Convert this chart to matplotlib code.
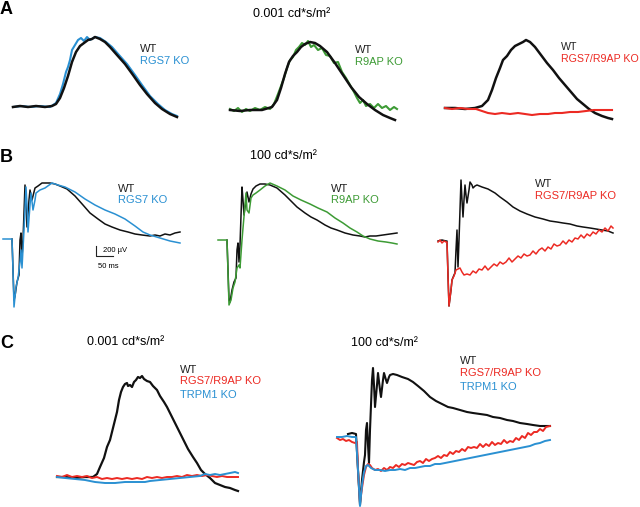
"""
ERG traces: WT vs RGS7 / R9AP / RGS7-R9AP / TRPM1 knockouts.

Time in ms from trace start, amplitude in uV relative to baseline.
Values were read off the printed figure.
"""

import matplotlib
matplotlib.use("Agg")
import matplotlib.pyplot as plt


BLACK = "#111111"
BLUE = "#2a90d2"
GREEN = "#3d9b35"
RED = "#ec2a23"

MS_PER_PX = 3.0
UV_PER_PX = 20.0
SCALE_UV = 200
SCALE_MS = 50

DIM_TITLE = "0.001 cd*s/m\u00b2"
BRIGHT_TITLE = "100 cd*s/m\u00b2"

# ---- A: 0.001 cd*s/m2 -------------------------------------------------------
A1_T_WT = [0, 21, 45, 69, 96, 117, 129, 141, 153, 165, 177, 189, 201, 213, 225,
           237, 246, 261, 276, 291, 312, 336, 360, 381, 402, 426, 447, 471, 492]
A1_V_WT = [0, 20, 0, 20, 0, 20, 60, 180, 380, 620, 900, 1100, 1220, 1280, 1340,
           1360, 1400, 1360, 1300, 1200, 1040, 860, 640, 440, 260, 80, -40, -140, -200]
A1_T_KO = [0, 27, 51, 81, 111, 129, 141, 150, 159, 165, 171, 177, 186, 195, 204, 213,
           222, 231, 246, 261, 279, 297, 318, 342, 366, 387, 411, 435, 456, 477, 492]
A1_V_KO = [0, 20, 0, 20, 0, 80, 260, 460, 700, 800, 940, 1140, 1240, 1340, 1380, 1320,
           1400, 1340, 1400, 1380, 1300, 1200, 1040, 860, 640, 440, 220, 60, -60, -140, -180]

A2_T_WT = [0, 30, 60, 96, 126, 141, 153, 165, 177, 189, 201, 213, 225, 240, 255,
           270, 291, 315, 339, 363, 387, 411, 435, 459, 480, 495]
A2_V_WT = [0, -20, 0, 0, 60, 200, 440, 720, 960, 1080, 1160, 1260, 1320, 1360, 1340,
           1280, 1160, 940, 700, 460, 260, 120, 0, -100, -160, -200]
A2_T_KO = [0, 12, 24, 36, 48, 60, 75, 90, 105, 120, 132, 144, 153, 162, 171, 180,
           189, 198, 207, 216, 225, 234, 243, 252, 264, 276, 288, 300, 312, 324, 336,
           348, 360, 372, 381, 390, 399, 408, 420, 432, 444, 456, 468, 480, 492, 501]
A2_V_KO = [20, -20, 40, -40, 20, -20, 40, 0, 60, 20, 120, 320, 480, 640, 840, 1000,
           1060, 1200, 1260, 1340, 1300, 1380, 1260, 1300, 1200, 1240, 1100, 1080, 940,
           960, 760, 640, 500, 360, 240, 140, 200, 80, 120, 40, 120, 40, 80, 0, 60, 20]

A3_T_WT = [0, 30, 60, 90, 111, 129, 141, 153, 165, 174, 186, 198, 210, 222, 234, 243,
           255, 270, 288, 306, 324, 342, 360, 378, 396, 414, 432, 450, 471, 489, 501]
A3_V_WT = [0, 0, -20, 0, 40, 160, 360, 600, 800, 960, 1040, 1160, 1240, 1280, 1320,
           1360, 1320, 1220, 1060, 900, 760, 600, 460, 320, 180, 80, -20, -100, -160,
           -200, -220]
A3_T_KO = [0, 21, 45, 69, 93, 111, 129, 150, 171, 195, 219, 240, 261, 285, 309, 330,
           351, 375, 399, 423, 447, 471, 501]
A3_V_KO = [0, -20, 0, -20, -20, -60, -100, -120, -100, -120, -100, -120, -140, -120,
           -120, -100, -100, -80, -80, -60, -40, -40, -40]

# ---- B: 100 cd*s/m2 ---------------------------------------------------------
B1_T_WT = [27, 30, 33, 36, 42, 48, 51, 54, 57, 60, 66, 69, 72, 78, 81, 87, 93, 96,
           105, 117, 129, 141, 156, 171, 192, 216, 240, 261, 285, 306, 327, 351, 375,
           396, 417, 441, 456, 471, 486, 501, 516, 531]
B1_V_WT = [0, -620, -1220, -1140, -860, -720, -20, 120, -360, -20, 1080, 680, 240,
           780, 980, 780, 940, 1020, 1060, 1120, 1120, 1120, 1100, 1060, 1000, 860, 680,
           520, 400, 300, 240, 180, 140, 100, 80, 60, 80, 60, 100, 80, 120, 140]
B1_T_KO = [0, 15, 27, 30, 33, 39, 45, 51, 54, 57, 63, 69, 72, 75, 81, 84, 90, 96, 99,
           111, 126, 147, 165, 186, 216, 246, 276, 306, 336, 366, 396, 420, 441, 471,
           501, 531]
B1_V_KO = [0, 0, 0, -620, -1360, -960, -780, -460, -220, -580, 180, 1040, 680, 140,
           680, 920, 580, 780, 920, 980, 1020, 1120, 1080, 1040, 940, 800, 680, 580,
           500, 400, 260, 140, 80, 20, -40, -80]

B2_T_WT = [27, 30, 33, 36, 42, 48, 54, 57, 60, 63, 66, 72, 75, 78, 84, 87, 93, 99,
           105, 114, 126, 141, 156, 177, 201, 222, 237, 261, 279, 297, 321, 339, 357,
           381, 405, 426, 441, 456, 474, 495, 516, 537]
B2_V_WT = [0, -600, -1200, -1240, -1000, -840, -760, -200, -60, -440, -100, 1060, 800,
           500, 800, 960, 760, 920, 1020, 1080, 1120, 1120, 1100, 1040, 900, 760, 660,
           540, 460, 400, 300, 240, 200, 140, 100, 80, 60, 80, 80, 100, 120, 140]
B2_T_KO = [0, 15, 27, 30, 33, 39, 45, 51, 57, 63, 66, 72, 75, 81, 84, 87, 93, 99, 105,
           114, 126, 141, 156, 177, 201, 225, 249, 276, 300, 327, 351, 375, 396, 417,
           435, 456, 480, 504, 522, 537]
B2_V_KO = [0, 0, 0, -640, -1300, -1200, -960, -840, -560, -500, -560, 0, 240, 700,
           940, 600, 540, 840, 900, 940, 1000, 1080, 1140, 1080, 1000, 880, 800, 720,
           640, 560, 440, 340, 240, 160, 80, 20, -20, -40, -60, -80]

B3_T_WT = [0, 12, 24, 27, 30, 33, 39, 42, 48, 51, 54, 57, 60, 63, 69, 72, 75, 78, 81,
           84, 87, 93, 96, 102, 105, 111, 117, 132, 150, 171, 186, 207, 225, 246, 267,
           291, 315, 336, 357, 375, 396, 417, 435, 456, 474, 492, 510, 525]
B3_V_WT = [0, 20, 0, 0, -680, -1300, -980, -780, -680, -640, -180, 220, -520, 20, 1220,
           820, 480, 820, 1120, 920, 760, 1020, 1180, 1120, 1060, 1100, 1120, 1080, 1040,
           960, 880, 780, 680, 600, 540, 480, 440, 400, 380, 360, 340, 300, 280, 260,
           240, 220, 200, 160]
B3_T_KO = [0, 6, 12, 18, 24, 27, 30, 33, 39, 42, 48, 54, 60, 66, 72, 78,
           87, 96, 105, 114, 123, 132, 141, 150, 159, 168, 177, 186, 195, 204, 213, 222,
           231, 240, 249, 258, 267, 276, 285, 294, 303, 312, 321, 330, 339, 348, 357,
           366, 375, 384, 393, 402, 411, 420, 429, 438, 447, 456, 465, 474, 483, 492,
           501, 510, 519, 525]
B3_V_KO = [-20, 20, -40, 0, -20, -20, -700, -1300, -980, -780, -700, -580, -560, -540,
           -620, -680,
           -660, -680, -600, -640, -560, -580, -500, -580, -520, -460, -500, -420, -460,
           -420, -340, -420, -360, -300, -340, -260, -300, -280, -200, -260, -180, -140,
           -200, -120, -160, -60, -100, -80, 0, -60, 20, -20, 60, 40, 120, 60, 140, 100,
           180, 140, 220, 180, 260, 200, 300, 260]

# ---- C: all three genotypes --------------------------------------------------
C1_T_WT = [0, 24, 54, 84, 108, 120, 129, 141, 150, 159, 168, 174, 180, 186, 192, 198,
           204, 210, 213, 219, 225, 231, 237, 243, 249, 255, 261, 270, 279, 288, 300,
           309, 321, 330, 342, 354, 369, 381, 393, 408, 420, 432, 444, 459, 474, 489,
           504, 519, 534, 543]
C1_V_WT = [0, 0, -20, 0, 0, 60, 200, 380, 600, 740, 980, 1140, 1300, 1540, 1700, 1800,
           1860, 1880, 1820, 1840, 1800, 1900, 1940, 2000, 1980, 2020, 1960, 1920, 1900,
           1820, 1740, 1620, 1500, 1400, 1240, 1080, 880, 720, 560, 400, 280, 140, 60,
           -20, -120, -160, -200, -220, -260, -280]
C1_T_DKO = [0, 15, 30, 45, 60, 75, 90, 105, 120, 135, 150, 165, 180, 195, 210, 225,
            240, 255, 270, 285, 300, 315, 330, 345, 360, 375, 390, 405, 420, 435, 450,
            465, 480, 495, 510, 525, 543]
C1_V_DKO = [20, 0, 40, 0, 20, 0, 20, -20, 0, -40, -20, -40, -20, -40, -20, -40, -20,
            -40, 0, -20, 0, -20, 0, 0, 20, 0, 40, 20, 40, 20, 40, 20, 0, 20, 0, 0, 0]
C1_T_TRPM1 = [0, 24, 54, 84, 114, 144, 174, 204, 234, 264, 279, 309, 339, 369, 399,
              429, 444, 459, 474, 489, 504, 519, 534, 543]
C1_V_TRPM1 = [0, -20, -40, -60, -100, -120, -120, -100, -100, -100, -80, -60, -40, -20,
              0, 20, 60, 40, 60, 40, 60, 80, 100, 80]

C2_T_WT = [33, 45, 57, 63, 69, 75, 81, 84, 87, 90, 93, 96, 99, 105, 108, 111, 114, 120,
           123, 129, 132, 138, 141, 147, 150, 156, 159, 168, 180, 195, 213, 228, 243,
           261, 279, 297, 315, 333, 348, 369, 390, 408, 429, 450, 468, 489, 510, 528,
           549, 570, 588, 609, 624, 639]
C2_V_WT = [60, 80, 60, -660, -1360, -860, -500, -360, 140, 280, -160, -520, 140, 1140,
           1380, 1040, 600, 1040, 1280, 940, 800, 1140, 1280, 1140, 1080, 1200, 1240,
           1260, 1240, 1200, 1160, 1100, 1020, 920, 800, 720, 660, 600, 580, 540, 500,
           480, 460, 440, 400, 380, 340, 320, 280, 260, 240, 220, 220, 220]
C2_T_DKO = [0, 9, 18, 27, 36, 45, 54, 60, 63, 69, 75, 81, 87, 93, 99, 105,
            114, 123, 132, 141, 150, 159, 168, 177, 186, 195, 204, 213, 222, 231, 240,
            249, 258, 267, 276, 285, 294, 303, 312, 321, 330, 339, 348, 357, 366, 375,
            384, 393, 402, 411, 420, 429, 438, 447, 456, 465, 474, 483, 492, 501, 510,
            519, 528, 537, 546, 555, 564, 573, 582, 591, 600, 609, 618, 627, 639]
C2_V_DKO = [-20, -60, -40, -80, -60, -100, -120, -100, -660, -1320, -1020, -760, -600,
            -540, -560, -620,
            -660, -640, -680, -620, -660, -600, -620, -560, -600, -540, -560, -520, -540,
            -560, -500, -480, -520, -440, -480, -440, -420, -380, -420, -360, -380, -300,
            -340, -280, -300, -240, -280, -200, -220, -200, -220, -140, -200, -140, -180,
            -100, -160, -120, -140, -60, -120, -80, -100, -20, -60, 20, -20, 80, 40, 100,
            100, 160, 120, 200, 220]
C2_T_TRPM1 = [0, 15, 30, 45, 57, 63, 69, 75, 81, 87, 93, 102, 114, 129, 144, 159, 174,
              189, 204, 219, 234, 249, 264, 279, 294, 309, 324, 339, 354, 369, 384, 399,
              414, 429, 444, 459, 474, 489, 504, 519, 534, 549, 564, 579, 594, 609,
              624, 639]
C2_V_TRPM1 = [0, 0, 20, 0, 0, -660, -1380, -960, -700, -580, -560, -620, -660, -660,
              -680, -660, -660, -640, -660, -620, -620, -600, -580, -580, -540, -540,
              -520, -500, -480, -460, -440, -420, -400, -380, -360, -340, -320, -300,
              -280, -260, -240, -220, -200, -180, -140, -120, -80, -60]


FIG_W, FIG_H = 640, 507


def fx(x):
    return x / FIG_W


def fy(y):
    return 1 - y / FIG_H


def panel_axes(fig, origin, left, right, top, bottom):
    """Axes over a pixel box; origin is the pixel of (t=0, v=0)."""
    x0, y0 = origin
    ax = fig.add_axes([fx(left), fy(bottom), (right - left) / FIG_W,
                       (bottom - top) / FIG_H])
    ax.set_xlim((left - x0) * MS_PER_PX, (right - x0) * MS_PER_PX)
    ax.set_ylim((y0 - bottom) * UV_PER_PX, (y0 - top) * UV_PER_PX)
    ax.axis("off")
    return ax


def trace(ax, t, v, color, lw):
    ax.plot(t, v, color=color, linewidth=lw, solid_joinstyle="round",
            clip_on=False)


def labels(fig, x, ys, items, size=8):
    for y, (text, color) in zip(ys, items):
        fig.text(fx(x), fy(y), text, color=color, fontsize=size,
                 ha="left", va="center")


def main():
    plt.rcParams.update({
        "font.family": ["Liberation Sans", "DejaVu Sans"],
    })
    fig = plt.figure(figsize=(6.4, 5.07), dpi=100)

    # row A
    ax = panel_axes(fig, (13, 107), 0, 210, 25, 125)
    trace(ax, A1_T_KO, A1_V_KO, BLUE, 1.5)
    trace(ax, A1_T_WT, A1_V_WT, BLACK, 1.8)
    ax = panel_axes(fig, (230, 110), 210, 420, 25, 125)
    trace(ax, A2_T_KO, A2_V_KO, GREEN, 1.5)
    trace(ax, A2_T_WT, A2_V_WT, BLACK, 1.8)
    ax = panel_axes(fig, (445, 108), 420, 640, 25, 125)
    trace(ax, A3_T_WT, A3_V_WT, BLACK, 1.8)
    trace(ax, A3_T_KO, A3_V_KO, RED, 1.5)

    labels(fig, 140, [49, 61], [("WT", "#222222"), ("RGS7 KO", BLUE)])
    labels(fig, 355, [50, 62], [("WT", "#222222"), ("R9AP KO", GREEN)])
    labels(fig, 561, [47, 59], [("WT", "#222222"), ("RGS7/R9AP KO", RED)], size=7.7)
    fig.text(fx(253), fy(14), DIM_TITLE, fontsize=9, ha="left", va="center")

    # row B
    ax = panel_axes(fig, (3, 239), 0, 210, 170, 312)
    trace(ax, B1_T_WT, B1_V_WT, BLACK, 1.1)
    trace(ax, B1_T_KO, B1_V_KO, BLUE, 1.1)
    # scale bar
    t_bar, v_bar = 279, -340
    ax.plot([t_bar, t_bar, t_bar + SCALE_MS],
            [v_bar + SCALE_UV, v_bar, v_bar],
            color="#222222", linewidth=0.8, clip_on=False)
    fig.text(fx(103), fy(251), "200 \u00b5V", fontsize=5.5, ha="left", va="center")
    fig.text(fx(98), fy(266), "50 ms", fontsize=5.5, ha="left", va="center")

    ax = panel_axes(fig, (218, 240), 210, 420, 170, 312)
    trace(ax, B2_T_WT, B2_V_WT, BLACK, 1.1)
    trace(ax, B2_T_KO, B2_V_KO, GREEN, 1.1)
    ax = panel_axes(fig, (438, 241), 420, 640, 170, 312)
    trace(ax, B3_T_WT, B3_V_WT, BLACK, 1.1)
    trace(ax, B3_T_KO, B3_V_KO, RED, 1.1)

    labels(fig, 118, [189, 200], [("WT", "#222222"), ("RGS7 KO", BLUE)])
    labels(fig, 331, [189, 200], [("WT", "#222222"), ("R9AP KO", GREEN)])
    labels(fig, 535, [184, 196], [("WT", "#222222"), ("RGS7/R9AP KO", RED)])
    fig.text(fx(250), fy(156), BRIGHT_TITLE, fontsize=9, ha="left", va="center")

    # row C
    ax = panel_axes(fig, (57, 477), 0, 320, 350, 500)
    trace(ax, C1_T_WT, C1_V_WT, BLACK, 1.6)
    trace(ax, C1_T_DKO, C1_V_DKO, RED, 1.4)
    trace(ax, C1_T_TRPM1, C1_V_TRPM1, BLUE, 1.4)
    ax = panel_axes(fig, (337, 437), 320, 640, 350, 507)
    trace(ax, C2_T_WT, C2_V_WT, BLACK, 1.5)
    trace(ax, C2_T_DKO, C2_V_DKO, RED, 1.4)
    trace(ax, C2_T_TRPM1, C2_V_TRPM1, BLUE, 1.4)

    labels(fig, 180, [370, 381.5, 395],
           [("WT", "#222222"), ("RGS7/R9AP KO", RED), ("TRPM1 KO", BLUE)])
    labels(fig, 460, [361.5, 373, 387],
           [("WT", "#222222"), ("RGS7/R9AP KO", RED), ("TRPM1 KO", BLUE)])
    fig.text(fx(87), fy(342), DIM_TITLE, fontsize=9, ha="left", va="center")
    fig.text(fx(351), fy(343.5), BRIGHT_TITLE, fontsize=9, ha="left", va="center")

    # panel letters
    for letter, y in [("A", 10), ("B", 158), ("C", 343)]:
        fig.text(fx(0), fy(y), letter, fontsize=13, fontweight="bold",
                 ha="left", va="center")

    fig.savefig("out.png", dpi=100)
    plt.close(fig)


if __name__ == "__main__":
    main()
